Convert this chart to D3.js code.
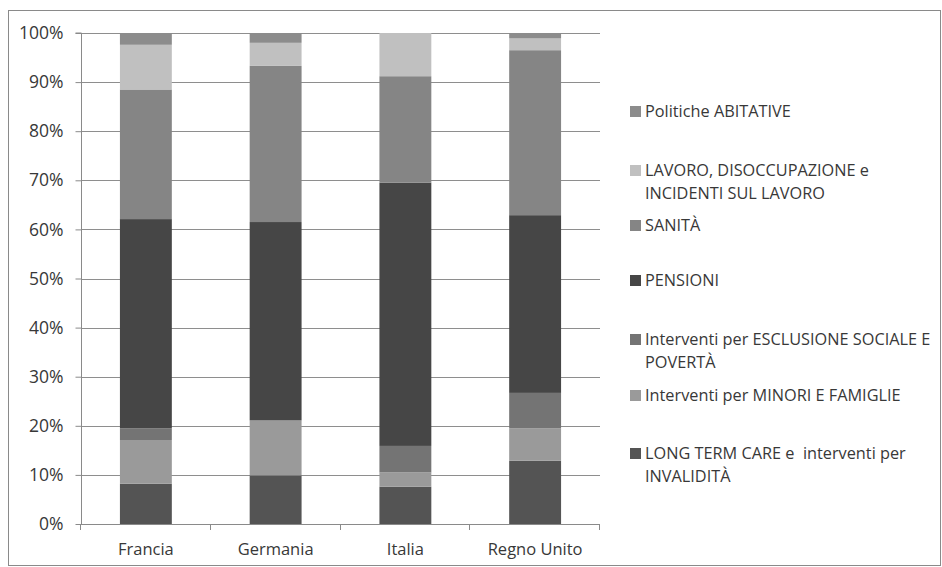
<!DOCTYPE html>
<html>
<head>
<meta charset="utf-8">
<script src="https://cdn.jsdelivr.net/npm/d3@7"></script>
<style>
  html, body { margin: 0; padding: 0; background: #fff; }
  svg { display: block; font-family: "Open Sans", "Liberation Sans", sans-serif; }
</style>
</head>
<body>
<svg id="chart" width="942" height="567"></svg>
<script>
// Countries on the x axis
const categories = ["Francia", "Germania", "Italia", "Regno Unito"];

// Share of social spending by function (%), bottom to top of each bar
const ltc        = [8.2, 9.9, 7.6, 12.9];
const minori     = [8.9, 11.2, 2.9, 6.6];
const esclusione = [2.4, 0.0, 5.4, 7.2];
const pensioni   = [42.6, 40.4, 53.6, 36.2];
const sanita     = [26.4, 31.8, 21.7, 33.6];
const lavoro     = [9.1, 4.7, 8.8, 2.4];
const abitative  = [2.4, 2.0, 0.0, 1.1];

// Series names (legend lines) in stacking order
const seriesKeys = ["ltc", "minori", "esclusione", "pensioni", "sanita", "lavoro", "abitative"];
const seriesLabels = [
  ["LONG TERM CARE e  interventi per", "INVALIDITÀ"],
  ["Interventi per MINORI E FAMIGLIE"],
  ["Interventi per ESCLUSIONE SOCIALE E", "POVERTÀ"],
  ["PENSIONI"],
  ["SANITÀ"],
  ["LAVORO, DISOCCUPAZIONE e", "INCIDENTI SUL LAVORO"],
  ["Politiche ABITATIVE"]
];
const seriesColors = ["#545454", "#9a9a9a", "#747474", "#464646", "#858585", "#c0c0c0", "#8c8c8c"];

// Y axis ticks
const yTicks = [0, 0.1, 0.2, 0.3, 0.4, 0.5, 0.6, 0.7, 0.8, 0.9, 1.0];

const seriesValues = { ltc, minori, esclusione, pensioni, sanita, lavoro, abitative };
const rows = categories.map((c, i) => {
  const r = { country: c };
  seriesKeys.forEach(k => r[k] = seriesValues[k][i]);
  return r;
});

const textColor = "#383838";
const svg = d3.select("#chart");

// Outer frame
svg.append("rect")
  .attr("x", 8.5).attr("y", 10.5)
  .attr("width", 932).attr("height", 555)
  .attr("fill", "none").attr("stroke", "#8a8a8a").attr("stroke-width", 1);

const plot = { left: 81, right: 600, top: 33, bottom: 524 };

const x = d3.scaleBand()
  .domain(categories)
  .range([plot.left, plot.right])
  .paddingInner(0.6)
  .paddingOuter(0.3);

const y = d3.scaleLinear().domain([0, 1]).range([plot.bottom, plot.top]);

// Gridlines
svg.append("g")
  .selectAll("line")
  .data(yTicks)
  .join("line")
  .attr("x1", plot.left).attr("x2", plot.right)
  .attr("y1", d => Math.round(y(d)) + 0.5).attr("y2", d => Math.round(y(d)) + 0.5)
  .attr("stroke", "#8e8e8e").attr("stroke-width", 1);

// Stacked bars (normalised to 100%)
const stack = d3.stack().keys(seriesKeys).offset(d3.stackOffsetExpand);
const layers = stack(rows);

svg.append("g")
  .selectAll("g")
  .data(layers)
  .join("g")
  .attr("fill", (d, i) => seriesColors[i])
  .selectAll("rect")
  .data(d => d)
  .join("rect")
  .attr("x", d => x(d.data.country))
  .attr("width", x.bandwidth())
  .attr("y", d => y(d[1]))
  .attr("height", d => Math.max(0, y(d[0]) - y(d[1])));

// Y axis
const yAxis = d3.axisLeft(y)
  .tickValues(yTicks)
  .tickSize(6)
  .tickPadding(12)
  .tickFormat(d3.format(".0%"));

const gy = svg.append("g")
  .attr("transform", `translate(${plot.left + 0.5},0)`)
  .call(yAxis);
gy.select(".domain").attr("stroke", "#8a8a8a").attr("d", `M-6,${plot.top}H0V${plot.bottom}`);
gy.selectAll(".tick line").attr("stroke", "#8a8a8a");
gy.selectAll(".tick text")
  .attr("fill", textColor)
  .style("font-size", "17.5px")
  .style("font-family", "'Open Sans', sans-serif");

// X axis: baseline, boundary ticks and labels
const gx = svg.append("g");
gx.append("line")
  .attr("x1", plot.left).attr("x2", plot.right)
  .attr("y1", plot.bottom + 0.5).attr("y2", plot.bottom + 0.5)
  .attr("stroke", "#8a8a8a");
const boundaries = d3.range(categories.length + 1).map(i => plot.left + i * (plot.right - plot.left) / categories.length);
gx.selectAll("line.tk")
  .data(boundaries)
  .join("line")
  .attr("class", "tk")
  .attr("x1", d => Math.round(d) - 0.5).attr("x2", d => Math.round(d) - 0.5)
  .attr("y1", plot.bottom).attr("y2", plot.bottom + 6)
  .attr("stroke", "#8a8a8a");
gx.selectAll("text")
  .data(categories)
  .join("text")
  .attr("x", d => x(d) + x.bandwidth() / 2)
  .attr("y", 555)
  .attr("text-anchor", "middle")
  .attr("fill", textColor)
  .style("font-size", "16.5px")
  .text(d => d);

// Legend (top entry = top of stack)
const legendY = [111, 170, 225, 280, 339, 395, 453];
const legendOrder = seriesKeys.map((k, i) => i).reverse();
const lg = svg.append("g");
legendOrder.forEach((si, j) => {
  const cy = legendY[j];
  lg.append("rect")
    .attr("x", 630).attr("y", cy - 5)
    .attr("width", 11).attr("height", 11)
    .attr("fill", seriesColors[si]);
  seriesLabels[si].forEach((line, li) => {
    lg.append("text")
      .attr("x", 645)
      .attr("y", cy + 6 + li * 23)
      .attr("fill", textColor)
      .style("font-size", "16.3px")
      .style("white-space", "pre")
      .text(line);
  });
});
</script>
</body>
</html>
